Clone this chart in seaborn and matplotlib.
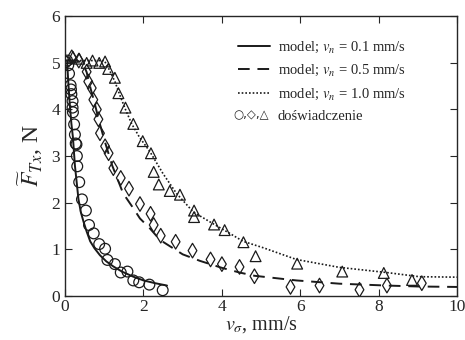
import numpy as np
import pandas as pd
import matplotlib
matplotlib.use("Agg")
import matplotlib.pyplot as plt
import matplotlib.text as mtext
from matplotlib.legend_handler import HandlerBase
from matplotlib.lines import Line2D
import seaborn as sns

sns.set_style("ticks")
plt.rcParams['font.family'] = ['Liberation Serif', 'DejaVu Serif']
plt.rcParams['mathtext.fontset'] = 'stix'

# model curves
m01_x = [0.05, 0.08, 0.12, 0.16, 0.2, 0.25, 0.3, 0.34, 0.4, 0.47, 0.55, 0.64, 0.75, 0.89,
         1.05, 1.23, 1.45, 1.74, 2.0, 2.3, 2.6]
m01_y = [5.05, 4.6, 4.1, 3.7, 3.4, 2.8, 2.4, 2.08, 1.8, 1.59, 1.38, 1.17, 1.02, 0.87,
         0.74, 0.63, 0.52, 0.41, 0.33, 0.27, 0.22]
m05_x = [0.1, 0.3, 0.45, 0.55, 0.65, 0.75, 0.85, 1.0, 1.2, 1.48, 1.74, 1.91, 2.16, 2.42,
         3.0, 3.44, 4.0, 4.45, 4.83, 5.9, 7.0, 8.2, 9.0, 10.0]
m05_y = [5.05, 5.05, 5.0, 4.8, 4.45, 4.15, 3.8, 3.35, 2.8, 2.2, 1.88, 1.66, 1.45, 1.2,
         0.89, 0.75, 0.6, 0.5, 0.43, 0.33, 0.26, 0.22, 0.2, 0.19]
m10_x = [0.1, 0.5, 1.0, 1.1, 1.27, 1.4, 1.54, 1.7, 1.9, 2.16, 2.5, 2.84, 3.27, 3.77,
         4.2, 4.54, 5.06, 5.9, 7.0, 8.2, 9.04, 10.0]
m10_y = [5.05, 5.05, 5.05, 4.9, 4.6, 4.3, 4.0, 3.69, 3.4, 3.1, 2.62, 2.2, 1.8, 1.55,
         1.34, 1.17, 1.03, 0.78, 0.61, 0.5, 0.41, 0.4]

# measurements (doświadczenie)
e01_x = [0.02, 0.05, 0.08, 0.1, 0.14, 0.15, 0.16, 0.19, 0.19, 0.2, 0.23, 0.25, 0.27, 0.29,
         0.3, 0.31, 0.36, 0.43, 0.53, 0.61, 0.73, 0.87, 1.02, 1.08, 1.27, 1.42, 1.59,
         1.74, 1.89, 2.15, 2.49]
e01_y = [5.02, 5.05, 4.95, 4.77, 4.52, 4.43, 4.33, 4.18, 4.04, 3.94, 3.68, 3.46, 3.27, 3.25,
         3.0, 2.78, 2.44, 2.07, 1.83, 1.52, 1.34, 1.11, 1.01, 0.77, 0.68, 0.5, 0.52,
         0.33, 0.29, 0.24, 0.12]
e05_x = [0.17, 0.35, 0.55, 0.59, 0.68, 0.72, 0.81, 0.85, 0.89, 1.02, 1.11, 1.23, 1.42,
         1.63, 1.91, 2.18, 2.26, 2.44, 2.82, 3.25, 3.71, 4.0, 4.45, 4.83, 5.75, 6.49,
         7.51, 8.21, 9.1]
e05_y = [5.12, 5.05, 4.81, 4.6, 4.46, 4.21, 4.0, 3.79, 3.49, 3.21, 3.06, 2.74, 2.53,
         2.3, 1.97, 1.76, 1.52, 1.29, 1.16, 0.97, 0.78, 0.68, 0.62, 0.42, 0.19, 0.22,
         0.13, 0.22, 0.27]
e10_x = [0.2, 0.36, 0.55, 0.7, 0.87, 1.02, 1.1, 1.27, 1.36, 1.54, 1.74, 1.98, 2.19,
         2.26, 2.39, 2.67, 2.93, 3.29, 3.29, 3.8, 4.07, 4.55, 4.86, 5.92, 7.07, 8.13, 8.85]
e10_y = [5.13, 5.09, 5.0, 5.05, 5.0, 5.03, 4.87, 4.68, 4.35, 4.04, 3.69, 3.32, 3.06,
         2.66, 2.39, 2.25, 2.17, 1.83, 1.69, 1.53, 1.41, 1.15, 0.85, 0.69, 0.52, 0.49, 0.34]

labels = ["model; $v_n$ = 0.1 mm/s", "model; $v_n$ = 0.5 mm/s", "model; $v_n$ = 1.0 mm/s"]

fig = plt.figure(figsize=(4.65, 3.4), dpi=100)
ax = fig.add_axes([0.14, 0.13, 0.843, 0.822])

col = '#1a1a1a'
sns.lineplot(x=m01_x, y=m01_y, ax=ax, color=col, lw=1.4, sort=False)
sns.lineplot(x=m05_x, y=m05_y, ax=ax, color=col, lw=1.4, sort=False)
ax.lines[-1].set_dashes([6, 4])
sns.lineplot(x=m10_x, y=m10_y, ax=ax, color=col, lw=1.2, sort=False)
ax.lines[-1].set_dashes([1, 1.2])

mk = dict(facecolor='none', edgecolor=col, linewidth=0.9, ax=ax, zorder=3)
sns.scatterplot(x=e01_x, y=e01_y, marker='o', s=60, **mk)
sns.scatterplot(x=e05_x, y=e05_y, marker='d', s=55, **mk)
sns.scatterplot(x=e10_x, y=e10_y, marker='^', s=60, **mk)

ax.set_xlim(0, 10)
ax.set_ylim(0, 6)
ax.set_xticks([0, 2, 4, 6, 8, 10])
ax.set_yticks([0, 1, 2, 3, 4, 5, 6])
ax.tick_params(direction='in', top=True, right=True, labelsize=12.5, length=5, width=0.8)
ax.tick_params(axis='x', pad=2)
for s in ax.spines.values():
    s.set_linewidth(1.0)

ax.set_xlabel("$v_{\\sigma}$, mm/s", fontsize=14.5, labelpad=0)
ax.set_ylabel("$\\widetilde{F}_{Tx}$, N", fontsize=17, labelpad=5)


class TextHandler(HandlerBase):
    def create_artists(self, legend, orig_handle, xdescent, ydescent, width, height, fontsize, trans):
        t = mtext.Text(-xdescent - 3, height / 2 - ydescent, orig_handle.get_text(),
                       fontsize=fontsize * 0.8, va='center', ha='left', transform=trans,
                       family=['DejaVu Sans'])
        return [t]


h = [Line2D([], [], color=col, lw=1.4),
     Line2D([], [], color=col, lw=1.4, dashes=[6, 4]),
     Line2D([], [], color=col, lw=1.2, dashes=[1, 1.2]),
     mtext.Text(text="○,◇,△")]
ax.legend(h, labels + ["doświadczenie"], loc='upper left', bbox_to_anchor=(0.44, 0.915),
          frameon=False, fontsize=10.5, handlelength=2.2, handletextpad=0.55,
          labelspacing=0.55, borderpad=0, borderaxespad=0,
          handler_map={mtext.Text: TextHandler()})

fig.savefig("out.png", dpi=100)
